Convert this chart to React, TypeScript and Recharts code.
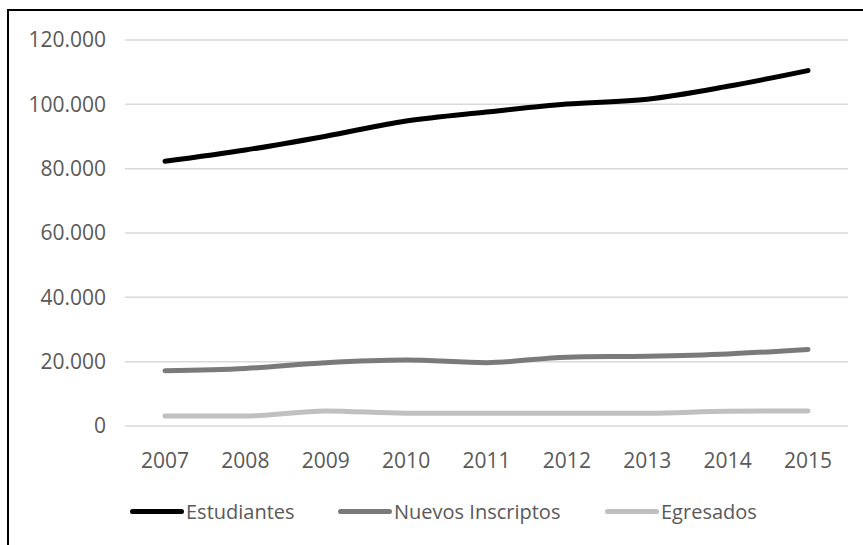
import React from 'react';
import { CartesianGrid, Legend, Line, LineChart, XAxis, YAxis } from 'recharts';

const years = ['2007', '2008', '2009', '2010', '2011', '2012', '2013', '2014', '2015'];
const estudiantes = [82300, 85800, 90100, 94800, 97600, 100100, 101600, 105600, 110500];
const nuevosInscriptos = [17200, 17900, 19700, 20500, 19700, 21400, 21700, 22400, 23800];
const egresados = [3100, 3100, 4700, 4000, 4000, 4000, 4000, 4600, 4700];
const yTicks = [0, 20000, 40000, 60000, 80000, 100000, 120000];

const data = years.map((year, i) => ({
  year,
  estudiantes: estudiantes[i],
  nuevos: nuevosInscriptos[i],
  egresados: egresados[i],
}));

const series = [
  { key: 'estudiantes', name: 'Estudiantes', color: '#000000', width: 208 },
  { key: 'nuevos', name: 'Nuevos Inscriptos', color: '#7a7a7a', width: 267 },
  { key: 'egresados', name: 'Egresados', color: '#c0c0c0', width: 200 },
];

const FONT = '"Open Sans", sans-serif';

// "120.000" style labels
const fmt = (v: number) => v.toLocaleString('de-DE');

function LegendRow() {
  return (
    <div style={{ display: 'flex', paddingLeft: 130, height: 30, alignItems: 'center', fontFamily: FONT, fontSize: 20, color: '#595959' }}>
      {series.map((s) => (
        <div key={s.key} style={{ display: 'flex', alignItems: 'center', width: s.width }}>
          <div style={{ width: 54, height: 5, borderRadius: 3, background: s.color, marginRight: 2 }} />
          <span>{s.name}</span>
        </div>
      ))}
    </div>
  );
}

export default function App() {
  return (
    <div style={{ position: 'relative', width: 863, height: 545, overflow: 'hidden', background: '#fff' }}>
      <style>{'body{margin:0}'}</style>
      {/* frame around the chart */}
      <div style={{ position: 'absolute', left: 7, top: 9, width: 880, height: 560, border: '2px solid #000', boxSizing: 'border-box' }} />
      <div style={{ position: 'absolute', left: 0, top: 0 }}>
        <LineChart width={863} height={545} data={data} margin={{ top: 40, right: 15, bottom: 19, left: 0 }}>
          <CartesianGrid vertical={false} stroke="#d9d9d9" strokeWidth={1.5} />
          <XAxis
            dataKey="year"
            axisLine={false}
            tickLine={false}
            tickSize={0}
            tickMargin={27}
            height={70}
            padding={{ left: 40, right: 40 }}
            tick={{ fill: '#595959', fontSize: 21, fontFamily: FONT }}
          />
          <YAxis
            width={125}
            domain={[0, 120000]}
            ticks={yTicks}
            tickFormatter={fmt}
            axisLine={false}
            tickLine={false}
            tickSize={0}
            tickMargin={19}
            tick={{ fill: '#595959', fontSize: 21, fontFamily: FONT }}
          />
          {series.map((s) => (
            <Line
              key={s.key}
              type="monotone"
              dataKey={s.key}
              name={s.name}
              stroke={s.color}
              strokeWidth={5}
              strokeLinecap="round"
              dot={false}
              isAnimationActive={false}
            />
          ))}
          <Legend verticalAlign="bottom" height={30} content={() => <LegendRow />} />
        </LineChart>
      </div>
    </div>
  );
}
